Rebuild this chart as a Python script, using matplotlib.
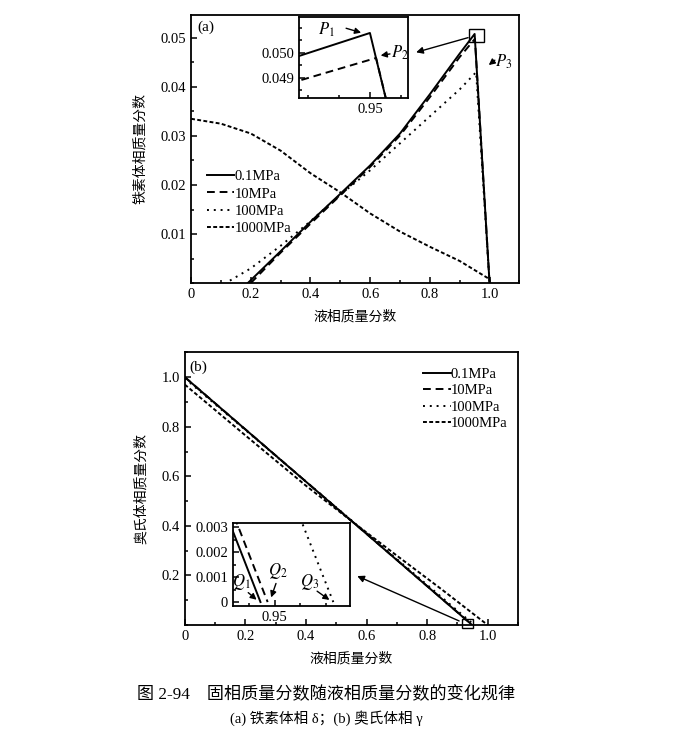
import numpy as np
import matplotlib.pyplot as plt
from matplotlib.ticker import MultipleLocator, FixedLocator
from matplotlib.patches import Rectangle

plt.rcParams['font.family'] = ['Liberation Serif', 'Noto Sans CJK SC']
plt.rcParams['mathtext.fontset'] = 'stix'

# (a) ferrite phase fraction vs liquid fraction
a_x_01 = [0.19, 0.3, 0.4, 0.5, 0.6, 0.7, 0.8, 0.9, 0.95, 1.0]
a_y_01 = [0.0, 0.0065, 0.0125, 0.0182, 0.0240, 0.0305, 0.0385, 0.0468, 0.0508, 0.0]
a_x_10 = [0.2, 0.3, 0.4, 0.5, 0.6, 0.7, 0.8, 0.9, 0.951, 1.0]
a_y_10 = [0.0, 0.0062, 0.0121, 0.0179, 0.0237, 0.0301, 0.0379, 0.0461, 0.0498, 0.0]
a_x_100 = [0.13, 0.2, 0.3, 0.4, 0.5, 0.6, 0.7, 0.8, 0.9, 0.955, 1.0]
a_y_100 = [0.0005, 0.003, 0.0076, 0.0126, 0.018, 0.023, 0.0285, 0.034, 0.0395, 0.043, 0.0]
a_x_1000 = [0.0, 0.1, 0.2, 0.3, 0.4, 0.5, 0.6, 0.7, 0.8, 0.9, 1.0]
a_y_1000 = [0.0335, 0.0325, 0.0305, 0.027, 0.0224, 0.0185, 0.0142, 0.0105, 0.0074, 0.0045, 0.0008]

# (b) austenite phase fraction vs liquid fraction
b_x_01 = [0.0, 0.9486]
b_y_01 = [1.0, 0.0]
b_x_10 = [0.0, 0.9493]
b_y_10 = [1.0, 0.0]
b_x_100 = [0.0, 0.9557]
b_y_100 = [0.995, 0.0]
b_x_1000 = [0.0, 0.2, 0.4, 0.55, 0.7, 0.85, 1.0]
b_y_1000 = [0.97, 0.765, 0.562, 0.42, 0.28, 0.142, 0.0]

labels = ['0.1MPa', '10MPa', '100MPa', '1000MPa']
styles = ['-', (0, (4, 2.5)), (0, (1, 2.5)), (0, (2, 1.2))]

fig = plt.figure(figsize=(7, 7.41), dpi=100)
ax1 = fig.add_axes([0.273, 0.618, 0.469, 0.362])
ax2 = fig.add_axes([0.264, 0.1565, 0.476, 0.368])

cjk = ['Noto Sans CJK SC']


def style_axes(ax, fs=10.5):
    for s in ax.spines.values():
        s.set_linewidth(1.3)
    ax.tick_params(which='both', direction='in', top=False, right=False,
                   labelsize=fs, width=1.1)
    ax.tick_params(which='major', length=4)
    ax.tick_params(which='minor', length=2.5)


def draw(ax, data, lw=1.4):
    lines = []
    for (x, y), ls, lab in zip(data, styles, labels):
        l, = ax.plot(x, y, color='black', linestyle=ls, linewidth=lw, label=lab)
        lines.append(l)
    return lines


data_a = [(a_x_01, a_y_01), (a_x_10, a_y_10), (a_x_100, a_y_100), (a_x_1000, a_y_1000)]
data_b = [(b_x_01, b_y_01), (b_x_10, b_y_10), (b_x_100, b_y_100), (b_x_1000, b_y_1000)]

# ---- panel (a)
draw(ax1, data_a)
ax1.set_xlim(0, 1.1)
ax1.set_ylim(0, 0.0547)
ax1.xaxis.set_major_locator(FixedLocator([0, 0.2, 0.4, 0.6, 0.8, 1.0]))
ax1.xaxis.set_minor_locator(MultipleLocator(0.1))
ax1.yaxis.set_major_locator(FixedLocator([0.01, 0.02, 0.03, 0.04, 0.05]))
ax1.yaxis.set_minor_locator(MultipleLocator(0.005))
ax1.set_xticklabels(['0', '0.2', '0.4', '0.6', '0.8', '1.0'])
ax1.set_yticklabels(['0.01', '0.02', '0.03', '0.04', '0.05'])
style_axes(ax1)
ax1.set_xlabel('液相质量分数', family=cjk, fontsize=10, labelpad=6)
ax1.set_ylabel('铁素体相质量分数', family=cjk, fontsize=10, labelpad=10)
ax1.text(0.018, 0.955, '(a)', transform=ax1.transAxes, fontsize=11, va='center')
ax1.legend(loc='center left', bbox_to_anchor=(0.03, 0.30), frameon=False,
           fontsize=10.5, handlelength=1.9, handletextpad=0.0, labelspacing=0.28,
           borderaxespad=0)

ins1 = ax1.inset_axes([0.329, 0.690, 0.332, 0.302])
draw(ins1, data_a[:2])
ins1.set_xlim(0.9385, 0.9562)
ins1.set_ylim(0.0482, 0.05144)
ins1.xaxis.set_major_locator(FixedLocator([0.95]))
ins1.xaxis.set_minor_locator(FixedLocator([0.94, 0.945, 0.955]))
ins1.yaxis.set_major_locator(FixedLocator([0.049, 0.050]))
ins1.yaxis.set_minor_locator(FixedLocator([0.0485, 0.0495, 0.0505, 0.051]))
ins1.set_xticklabels(['0.95'])
ins1.set_yticklabels(['0.049', '0.050'])
style_axes(ins1)
ins1.text(0.9430, 0.05092, r'$P_1$', fontsize=12, ha='center', va='center')
ins1.annotate('', xy=(0.9490, 0.05078), xytext=(0.9457, 0.05102),
              arrowprops=dict(arrowstyle='-|>', color='black', lw=1.0, mutation_scale=9))
ins1.text(0.9549, 0.0500, r'$P_2$', fontsize=12, ha='center', va='center')
ins1.annotate('', xy=(0.9513, 0.04988), xytext=(0.9537, 0.04998),
              arrowprops=dict(arrowstyle='-|>', color='black', lw=1.0, mutation_scale=9))

ax1.add_patch(Rectangle((0.93, 0.0492), 0.05, 0.0026, fill=False, lw=1.0,
                        edgecolor='black', clip_on=False))
ax1.annotate('', xy=(0.745, 0.0469), xytext=(0.937, 0.0502),
             arrowprops=dict(arrowstyle='-|>', color='black', lw=1.0, mutation_scale=10))
ax1.text(1.048, 0.0451, r'$P_3$', fontsize=12, ha='center', va='center')
ax1.annotate('', xy=(0.99, 0.0441), xytext=(1.025, 0.0458),
             arrowprops=dict(arrowstyle='-|>', color='black', lw=1.0, mutation_scale=9))

# ---- panel (b)
draw(ax2, data_b)
ax2.set_xlim(0, 1.1)
ax2.set_ylim(0, 1.1)
ax2.xaxis.set_major_locator(FixedLocator([0, 0.2, 0.4, 0.6, 0.8, 1.0]))
ax2.xaxis.set_minor_locator(MultipleLocator(0.1))
ax2.yaxis.set_major_locator(FixedLocator([0.2, 0.4, 0.6, 0.8, 1.0]))
ax2.yaxis.set_minor_locator(MultipleLocator(0.1))
ax2.set_xticklabels(['0', '0.2', '0.4', '0.6', '0.8', '1.0'])
ax2.set_yticklabels(['0.2', '0.4', '0.6', '0.8', '1.0'])
style_axes(ax2)
ax2.set_xlabel('液相质量分数', family=cjk, fontsize=10, labelpad=6)
ax2.set_ylabel('奥氏体相质量分数', family=cjk, fontsize=10, labelpad=10)
ax2.text(0.015, 0.945, '(b)', transform=ax2.transAxes, fontsize=11, va='center')
ax2.legend(loc='upper right', bbox_to_anchor=(0.985, 0.965), frameon=False,
           fontsize=10.5, handlelength=1.9, handletextpad=0.0, labelspacing=0.22,
           borderaxespad=0)

ins2 = ax2.inset_axes([0.144, 0.0696, 0.351, 0.304])
draw(ins2, data_b[:3])
ins2.set_xlim(0.9459, 0.9573)
ins2.set_ylim(-0.00016, 0.00316)
ins2.xaxis.set_major_locator(FixedLocator([0.95]))
ins2.xaxis.set_minor_locator(FixedLocator([0.9475, 0.9525, 0.955]))
ins2.yaxis.set_major_locator(FixedLocator([0.0, 0.001, 0.002, 0.003]))
ins2.yaxis.set_minor_locator(FixedLocator([0.0005, 0.0015, 0.0025]))
ins2.set_xticklabels(['0.95'])
ins2.set_yticklabels(['0', '0.001', '0.002', '0.003'])
style_axes(ins2)
arw = dict(arrowstyle='-|>', color='black', lw=1.0, mutation_scale=9)
ins2.text(0.94678, 0.00080, r'$Q_1$', fontsize=12, ha='center', va='center')
ins2.annotate('', xy=(0.94843, 0.00002), xytext=(0.94720, 0.00045), arrowprops=arw)
ins2.text(0.95028, 0.00125, r'$Q_2$', fontsize=12, ha='center', va='center')
ins2.annotate('', xy=(0.94955, 0.00008), xytext=(0.95020, 0.00085), arrowprops=arw)
ins2.text(0.95340, 0.00080, r'$Q_3$', fontsize=12, ha='center', va='center')
ins2.annotate('', xy=(0.95554, 0.00002), xytext=(0.95390, 0.00050), arrowprops=arw)

ax2.add_patch(Rectangle((0.916, -0.011), 0.037, 0.034, fill=False, lw=1.0,
                        edgecolor='black', clip_on=False))
ax2.annotate('', xy=(0.561, 0.202), xytext=(0.914, 0.012),
             arrowprops=dict(arrowstyle='-|>', color='black', lw=1.0, mutation_scale=10))

# caption
fig.text(0.466, 0.063, '图 2-94    固相质量分数随液相质量分数的变化规律',
         family=['Liberation Serif', 'Noto Sans CJK SC'], fontsize=12.3,
         ha='center', va='center')
fig.text(0.466, 0.031, '(a) 铁素体相 δ；(b) 奥氏体相 γ',
         family=['Liberation Serif', 'Noto Sans CJK SC'], fontsize=10.5,
         ha='center', va='center')

fig.savefig('out.png', dpi=100)
